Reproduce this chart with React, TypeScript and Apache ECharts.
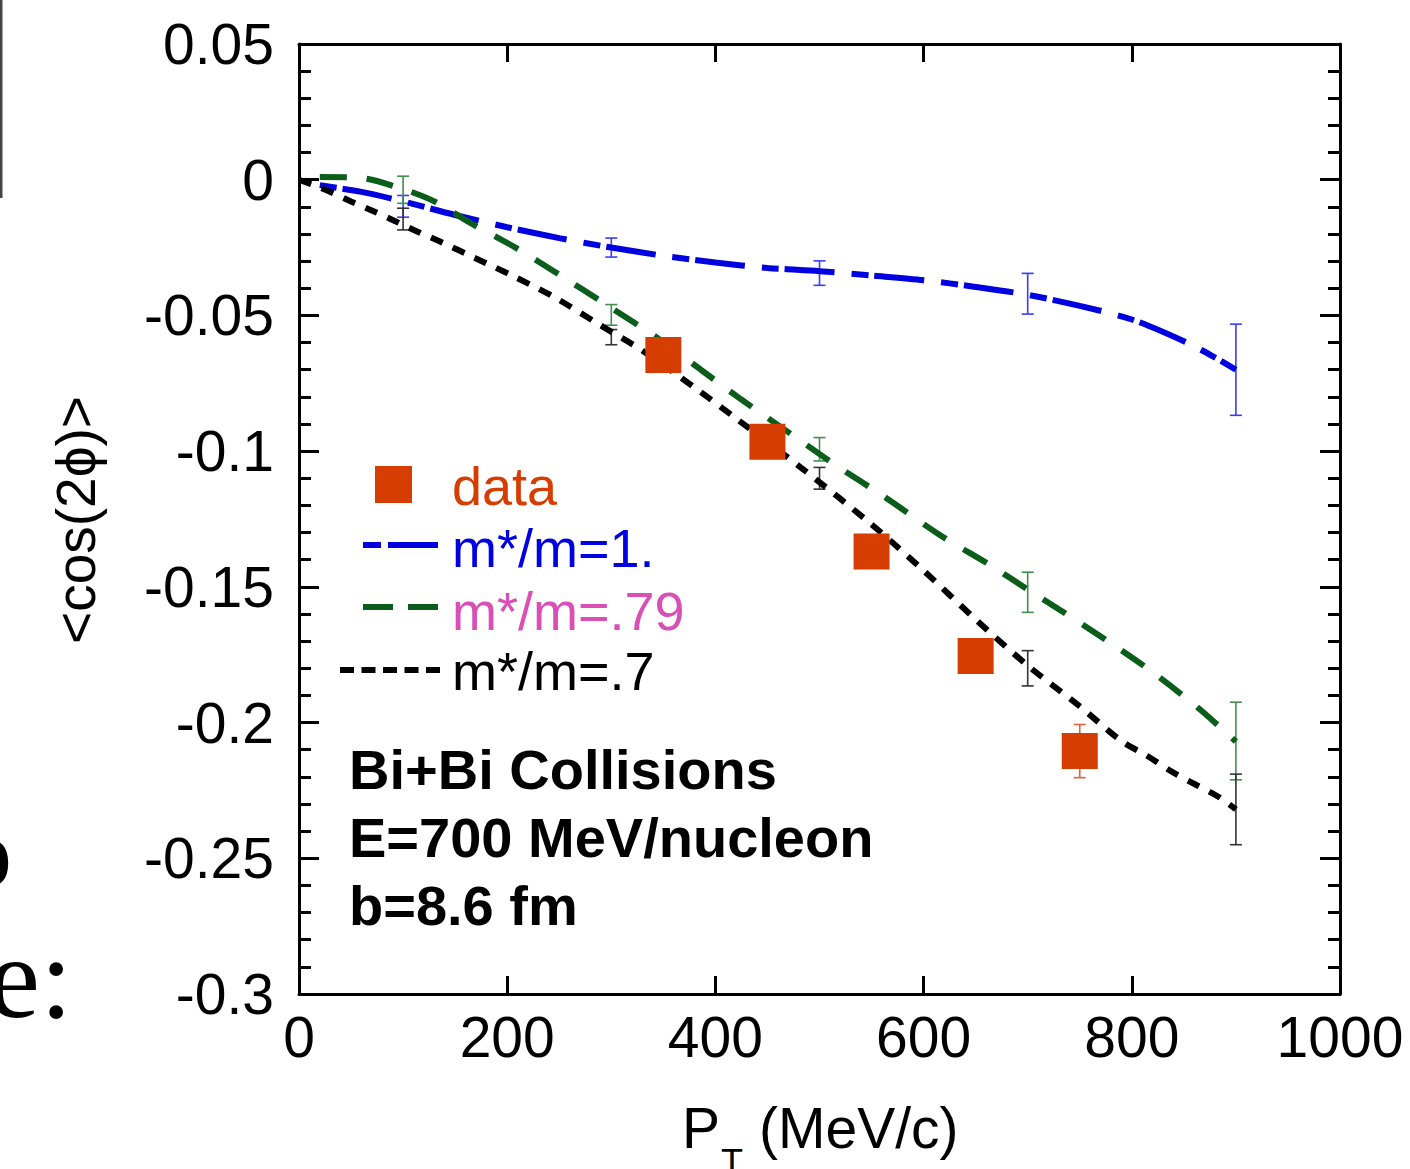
import React, { useEffect, useRef } from 'react';
import * as echarts from 'echarts';

// ---------- data ----------
const xTickValues = [0, 200, 400, 600, 800, 1000];

const dataX = [350, 450, 550, 650, 750];
const dataY = [-0.0646, -0.0965, -0.137, -0.1755, -0.2105];
const dataErr = [0.004, 0.004, 0.004, 0.004, 0.0098];

const blueCurve: [number, number][] = [
  [20, -0.002], [60, -0.0045], [100, -0.008], [150, -0.013], [200, -0.0175],
  [250, -0.0215], [300, -0.025], [350, -0.028], [400, -0.0305], [450, -0.0325],
  [500, -0.0337], [550, -0.0353], [600, -0.037], [650, -0.0395], [700, -0.0424],
  [750, -0.0465], [800, -0.0515], [850, -0.0595], [880, -0.0655], [900, -0.07],
];
const greenCurve: [number, number][] = [
  [20, 0.001], [60, 0.0006], [100, -0.0035], [130, -0.008], [165, -0.016],
  [208, -0.025], [250, -0.035], [295, -0.046], [347, -0.059], [386, -0.07],
  [425, -0.081], [470, -0.093], [513, -0.1045], [563, -0.117], [616, -0.131],
  [664, -0.142], [700, -0.151], [731, -0.1585], [777, -0.17], [822, -0.182],
  [865, -0.195], [900, -0.207],
];
const blackCurve: [number, number][] = [
  [0, 0], [27, -0.004], [50, -0.008], [71, -0.0115], [92, -0.0152], [113, -0.019],
  [135, -0.0227], [170, -0.029], [203, -0.035], [244, -0.043], [289, -0.0535],
  [330, -0.063], [378, -0.076], [419, -0.0877], [484, -0.1066], [550, -0.127],
  [600, -0.144], [650, -0.162], [700, -0.179], [750, -0.194], [790, -0.2068],
  [815, -0.2123], [838, -0.218], [862, -0.223], [884, -0.2275], [900, -0.232],
];

const errX = [100, 300, 500, 700, 900];
const blueErrY = [-0.0098, -0.025, -0.0344, -0.042, -0.07];
const blueErr = [0.004, 0.0035, 0.0045, 0.0075, 0.0168];
const greenErrY = [-0.0037, -0.0498, -0.0993, -0.152, -0.2068];
const greenErr = [0.005, 0.0038, 0.0043, 0.0074, 0.0143];
const blackErrY = [-0.0145, -0.058, -0.11, -0.18, -0.232];
const blackErr = [0.004, 0.0028, 0.004, 0.0065, 0.013];

const legendLabels = ['data', 'm*/m=1.', 'm*/m=.79', 'm*/m=.7'];
const infoLines = ['Bi+Bi Collisions', 'E=700 MeV/nucleon', 'b=8.6 fm'];
const yAxisName = '<cos(2ϕ)>';

// ---------- styles ----------
const RED = '#d63d00';
const BLUE = '#0000e0';
const GREEN = '#0b5e1a';
const PINK = '#d94fb5';
const SANS = '"Liberation Sans", Arial, Helvetica, sans-serif';
const SERIF = '"Liberation Serif", "Times New Roman", serif';

function errSeries(xs: number[], ys: number[], es: number[], color: string, z: number) {
  return {
    type: 'custom',
    silent: true,
    z,
    encode: { x: 0, y: [1, 2] },
    data: xs.map((x, i) => [x, ys[i] - es[i], ys[i] + es[i]]),
    renderItem: (_params: any, api: any) => {
      const x = api.value(0);
      const p1 = api.coord([x, api.value(1)]);
      const p2 = api.coord([x, api.value(2)]);
      const w = 6;
      const st = { stroke: color, lineWidth: 1.6 };
      return {
        type: 'group',
        children: [
          { type: 'line', shape: { x1: p1[0], y1: p1[1], x2: p2[0], y2: p2[1] }, style: st },
          { type: 'line', shape: { x1: p1[0] - w, y1: p1[1], x2: p1[0] + w, y2: p1[1] }, style: st },
          { type: 'line', shape: { x1: p2[0] - w, y1: p2[1], x2: p2[0] + w, y2: p2[1] }, style: st },
        ],
      };
    },
  };
}

function curveSeries(data: [number, number][], color: string, dash: number[], z: number) {
  return {
    type: 'line',
    data,
    symbol: 'none',
    showSymbol: false,
    smooth: 0.3,
    silent: true,
    z,
    lineStyle: { color, width: 6, type: dash, cap: 'butt' },
  };
}

function axisCommon() {
  return {
    axisLine: { show: true, onZero: false, lineStyle: { color: '#000', width: 3 } },
    splitLine: { show: false },
  };
}

export default function App() {
  const ref = useRef<HTMLDivElement>(null);
  useEffect(() => {
    if (!ref.current) return;
    const chart = echarts.init(ref.current, undefined, { renderer: 'svg' });
    const yFmt = (v: number) => {
      const r = Math.round(v * 100) / 100;
      return r === 0 ? '0' : String(r);
    };
    const xAxisBase = {
      type: 'value',
      min: xTickValues[0],
      max: xTickValues[xTickValues.length - 1],
      interval: xTickValues[1] - xTickValues[0],
      ...axisCommon(),
      axisTick: { show: true, inside: true, length: 18, lineStyle: { color: '#000', width: 3 } },
    };
    const yAxisBase = {
      type: 'value',
      min: -0.3,
      max: 0.05,
      interval: 0.05,
      ...axisCommon(),
      axisTick: { show: true, inside: true, length: 20, lineStyle: { color: '#000', width: 3 } },
      minorTick: { show: true, splitNumber: 5, length: 12, lineStyle: { color: '#000', width: 3 } },
      minorSplitLine: { show: false },
    };

    const graphics: any[] = [];
    // cropped slide artifacts on the left
    graphics.push({ type: 'line', shape: { x1: 1, y1: 0, x2: 1, y2: 198 }, style: { stroke: '#444', lineWidth: 3 } });
    graphics.push({ type: 'text', x: -38, y: 852, style: { text: 'o', font: `100px ${SERIF}`, fill: '#000', textAlign: 'left', textVerticalAlign: 'middle' } });
    graphics.push({ type: 'text', x: -12, y: 977, style: { text: 'e:', font: `117px ${SERIF}`, fill: '#000', textAlign: 'left', textVerticalAlign: 'middle' } });

    // legend
    graphics.push({ type: 'rect', shape: { x: 375, y: 466, width: 37, height: 37 }, style: { fill: RED } });
    graphics.push({ type: 'line', shape: { x1: 363, y1: 545, x2: 381, y2: 545 }, style: { stroke: BLUE, lineWidth: 6 } });
    graphics.push({ type: 'line', shape: { x1: 388, y1: 545, x2: 438, y2: 545 }, style: { stroke: BLUE, lineWidth: 6 } });
    graphics.push({ type: 'line', shape: { x1: 363, y1: 607, x2: 393, y2: 607 }, style: { stroke: GREEN, lineWidth: 6 } });
    graphics.push({ type: 'line', shape: { x1: 408, y1: 607, x2: 438, y2: 607 }, style: { stroke: GREEN, lineWidth: 6 } });
    graphics.push({ type: 'line', shape: { x1: 340, y1: 670, x2: 443, y2: 670 }, style: { stroke: '#000', lineWidth: 6, lineDash: [14, 7.5] } });
    const legendColors = [RED, BLUE, PINK, '#000'];
    const legendYs = [486, 548, 611, 671];
    legendLabels.forEach((t, i) => {
      graphics.push({ type: 'text', x: 452, y: legendYs[i], style: { text: t, font: `54px ${SANS}`, fill: legendColors[i], textAlign: 'left', textVerticalAlign: 'middle' } });
    });
    // info text
    const infoYs = [769, 837, 905];
    infoLines.forEach((t, i) => {
      graphics.push({ type: 'text', x: 349, y: infoYs[i], style: { text: t, font: `bold 56px ${SANS}`, fill: '#000', textAlign: 'left', textVerticalAlign: 'middle' } });
    });
    // axis names
    graphics.push({ type: 'text', x: 682, y: 1128, style: { text: 'P', font: `57px ${SANS}`, fill: '#000', textAlign: 'left', textVerticalAlign: 'middle' } });
    graphics.push({ type: 'text', x: 721, y: 1162, style: { text: 'T', font: `36px ${SANS}`, fill: '#000', textAlign: 'left', textVerticalAlign: 'middle' } });
    graphics.push({ type: 'text', x: 759, y: 1128, style: { text: '(MeV/c)', font: `57px ${SANS}`, fill: '#000', textAlign: 'left', textVerticalAlign: 'middle' } });
    graphics.push({ type: 'text', x: 76, y: 520, rotation: Math.PI / 2, style: { text: yAxisName, font: `55px ${SANS}`, fill: '#000', textAlign: 'center', textVerticalAlign: 'middle' } });

    chart.setOption({
      animation: false,
      backgroundColor: '#fff',
      grid: { left: 299, top: 44, width: 1041, height: 950, containLabel: false },
      xAxis: [
        { ...xAxisBase, position: 'bottom', axisLabel: { show: true, fontSize: 57, fontFamily: SANS, color: '#000', margin: 14, showMinLabel: true, showMaxLabel: true, formatter: (v: number) => String(v) } },
        { ...xAxisBase, position: 'top', axisLabel: { show: false } },
      ],
      yAxis: [
        { ...yAxisBase, position: 'left', axisLabel: { show: true, fontSize: 57, fontFamily: SANS, color: '#000', margin: 25, padding: [0, 0, 7, 0], formatter: yFmt } },
        { ...yAxisBase, position: 'right', axisLabel: { show: false } },
      ],
      graphic: { elements: graphics },
      series: [
        errSeries(errX, blueErrY, blueErr, '#3a3aff', 2),
        errSeries(errX, greenErrY, greenErr, '#3f8f4f', 2),
        errSeries(errX, blackErrY, blackErr, '#333333', 2),
        curveSeries(blueCurve, BLUE, [17, 6, 50, 17], 3),
        curveSeries(greenCurve, GREEN, [27, 20], 3),
        curveSeries(blackCurve, '#000', [13, 11], 3),
        errSeries(dataX, dataY, dataErr, '#e8603a', 4),
        {
          type: 'scatter',
          data: dataX.map((x, i) => [x, dataY[i]]),
          symbol: 'rect',
          symbolSize: 36,
          silent: true,
          z: 5,
          itemStyle: { color: RED, opacity: 1 },
        },
      ],
    });
    return () => chart.dispose();
  }, []);
  return <div ref={ref} style={{ position: 'absolute', left: 0, top: 0, width: 1410, height: 1169 }} />;
}
